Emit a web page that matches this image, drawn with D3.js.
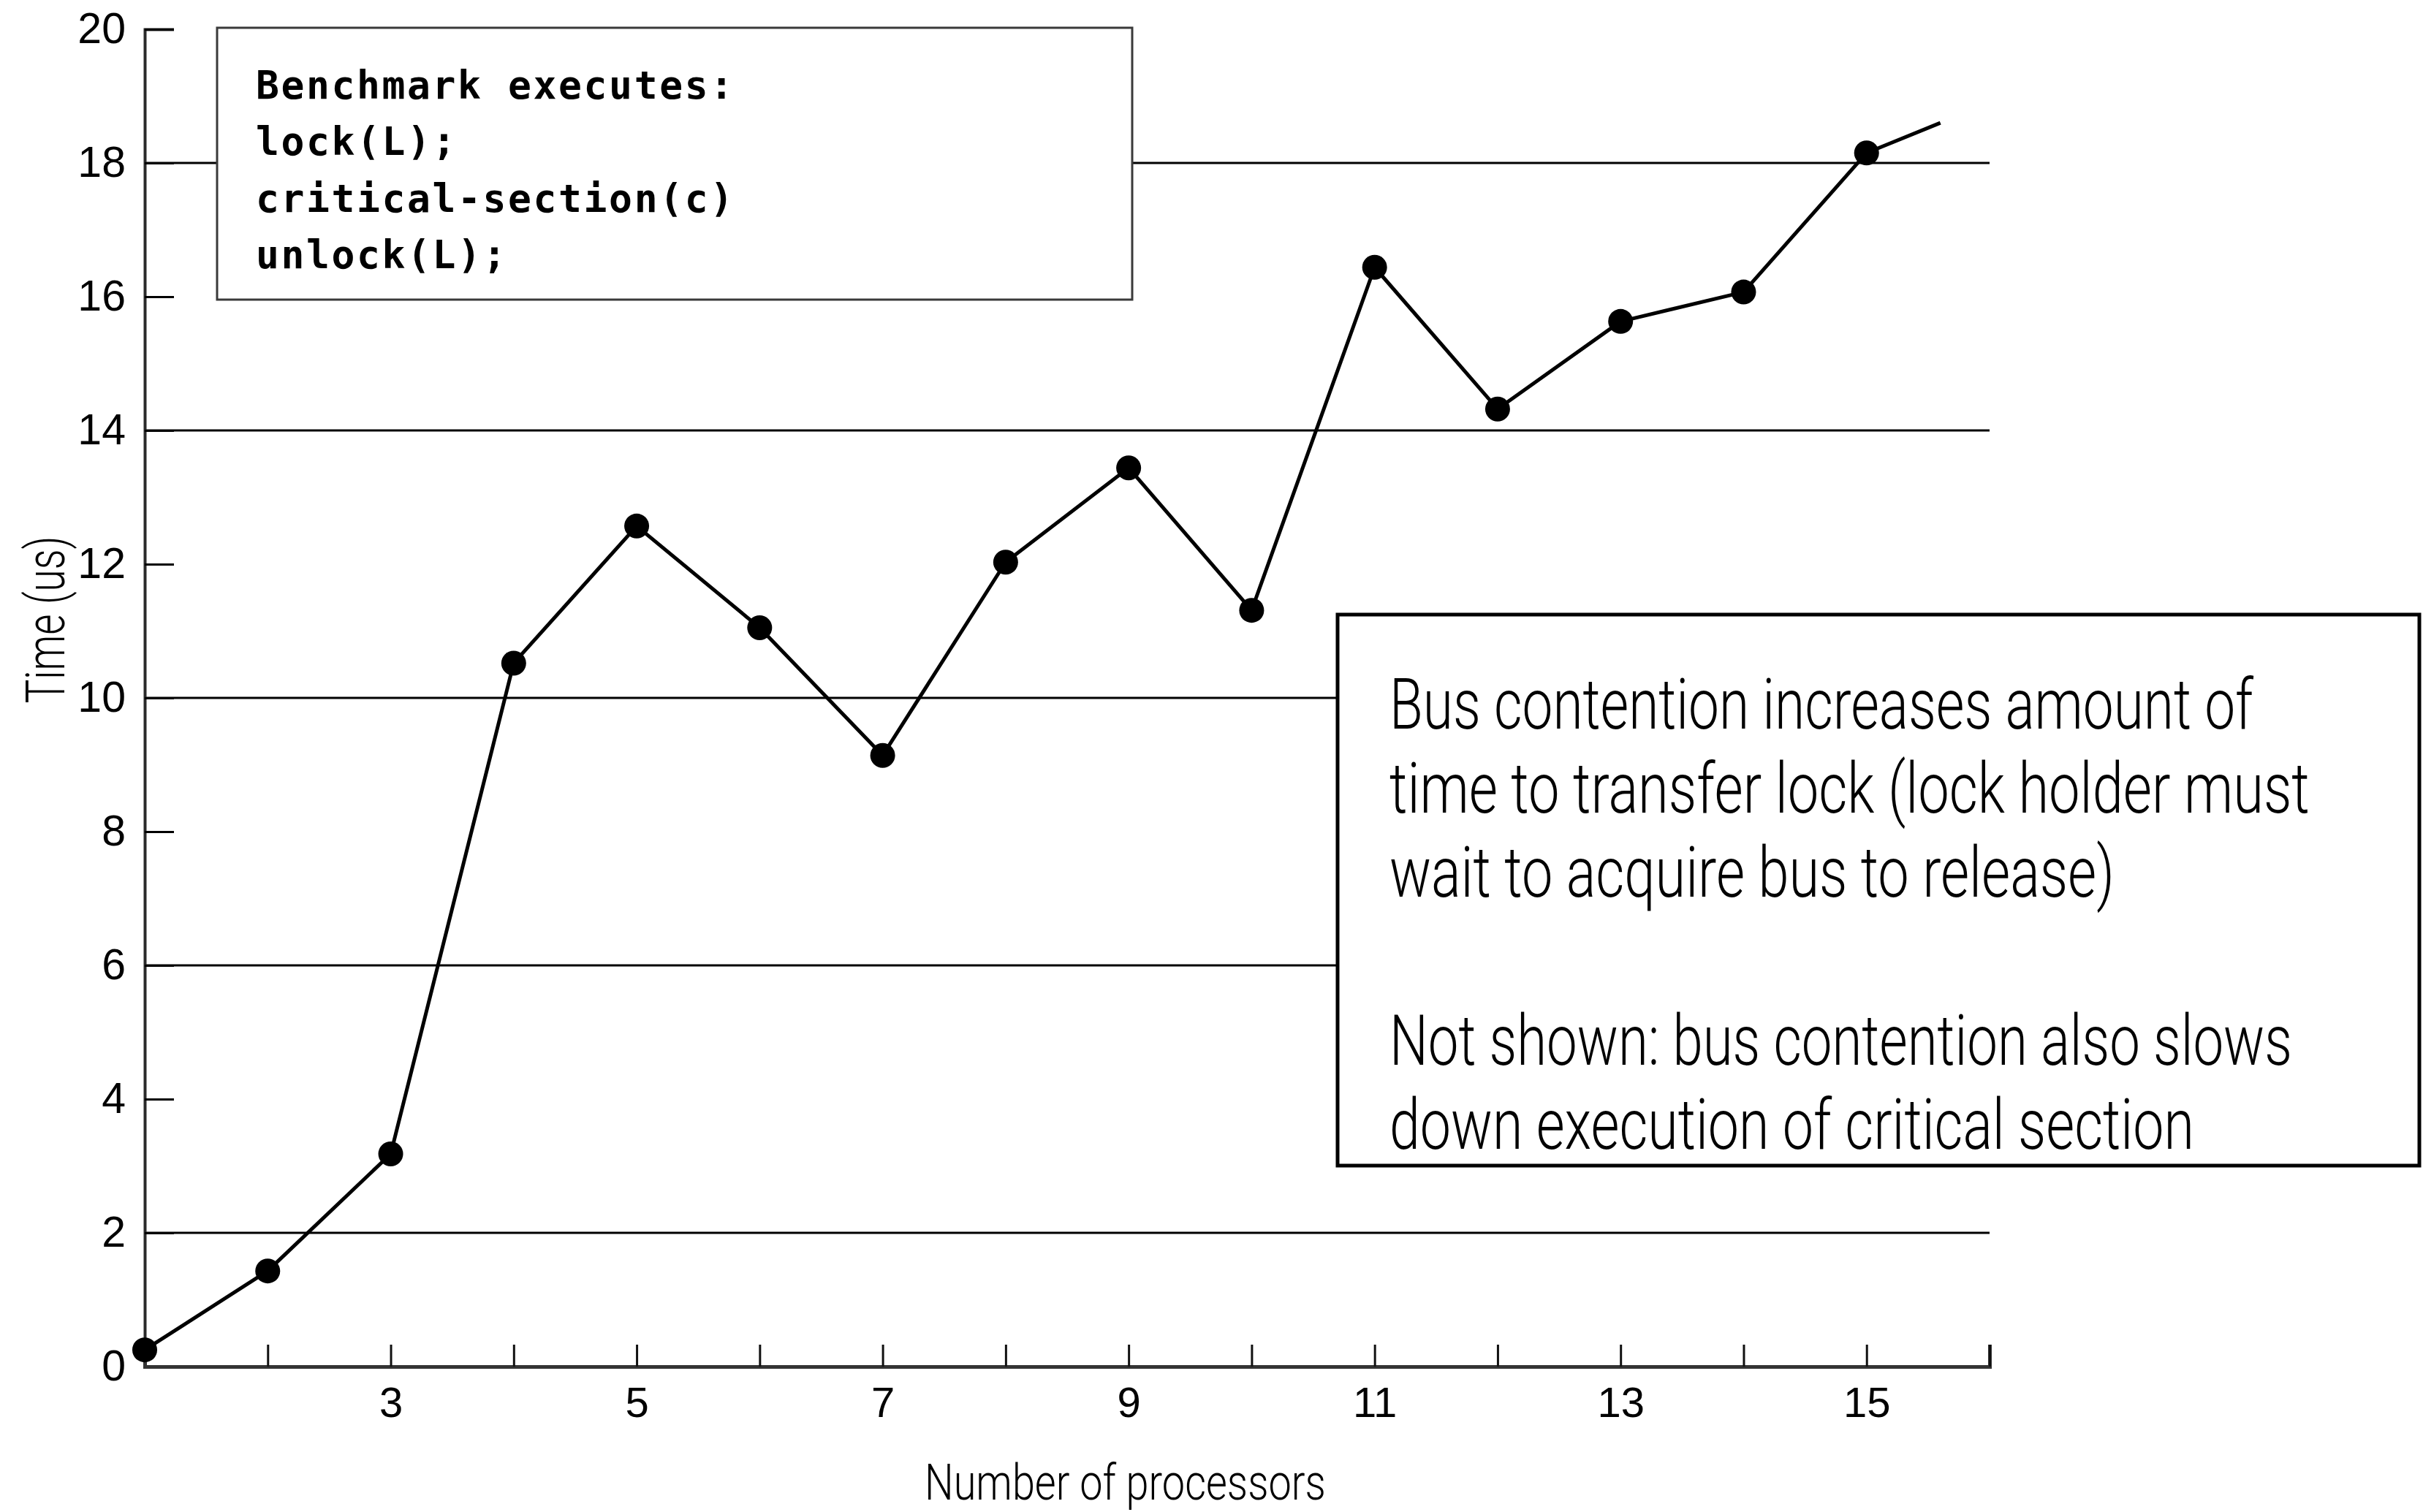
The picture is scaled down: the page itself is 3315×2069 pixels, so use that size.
<!DOCTYPE html>
<html>
<head>
<meta charset="utf-8">
<script src="https://cdn.jsdelivr.net/npm/d3@7"></script>
<style>
  body { margin: 0; background: #fff; }
  svg { display: block; }
</style>
</head>
<body>
<div id="chart"></div>
<script>
// values
const processors = [1, 2, 3, 4, 5, 6, 7, 8, 9, 10, 11, 12, 13, 14, 15]
const timeUs = [0.25, 1.43, 3.18, 10.52, 12.57, 11.05, 9.14, 12.03, 13.44, 11.31, 16.44, 14.32, 15.63, 16.07, 18.15]
// the line runs on a little past the last marker
const tail = { x: 15.6, y: 18.6 }

const yTickValues = [0, 2, 4, 6, 8, 10, 12, 14, 16, 18, 20]
const gridValues = [2, 6, 10, 14, 18]
const xTickValues = [2, 3, 4, 5, 6, 7, 8, 9, 10, 11, 12, 13, 14, 15, 16]
const xLabelValues = [3, 5, 7, 9, 11, 13, 15]

const codeLines = ["Benchmark executes:", "lock(L);", "critical-section(c)", "unlock(L);"]
const noteLines = ["Bus contention increases amount of",
  "time to transfer lock (lock holder must",
  "wait to acquire bus to release)",
  "",
  "Not shown: bus contention also slows",
  "down execution of critical section"]
const noteWidths = [1182, 1259, 992, 0, 1235, 1101]

const xTitle = "Number of processors"
const yTitle = "Time (us)"

drawChart("#chart")

function drawChart(id){
    const canvas = createCanvas()
    const svg = addSvg(id, canvas)
    const sc = addScales(canvas)

    addGrid(svg, sc)
    addAxes(svg, sc, canvas)
    addTitles(svg)
    addCodeBox(svg)
    addNoteBox(svg)
    addSeries(svg, sc)
}

function createCanvas(){
    return {
        width: 3315, height: 2069,
        margin: { top: 40, bottom: 199, left: 198, right: 593 }
    }
}

function addSvg(id, canvas){
    return d3.select(id).append("svg")
      .attr("width", canvas.width).attr("height", canvas.height)
      .attr("viewBox", `0 0 ${canvas.width} ${canvas.height}`)
}

function addScales(canvas){
    const xScale = d3.scaleLinear().domain([1, 16])
      .range([canvas.margin.left, canvas.width - canvas.margin.right])
    const yScale = d3.scaleLinear().domain([0, 20])
      .range([canvas.height - canvas.margin.bottom, canvas.margin.top])
    return { xScale, yScale }
}

// squeeze a light sans text horizontally so it spans the given width
function condensed(sel, width){
    sel.each(function(){
        const node = d3.select(this)
        const natural = this.getComputedTextLength()
        const sx = width / natural
        node.attr("transform", `${node.attr("data-pos")} scale(${sx},1)`)
    })
}

function addGrid(svg, sc){
    svg.append("g").selectAll("line").data(gridValues).join("line")
      .attr("x1", sc.xScale(1)).attr("x2", sc.xScale(16))
      .attr("y1", d => sc.yScale(d)).attr("y2", d => sc.yScale(d))
      .attr("stroke", "#000").attr("stroke-width", 3)
}

function addAxes(svg, sc, canvas){
    const yAxis = svg.append("g").attr("transform", `translate(${sc.xScale(1)},0)`)
      .call(d3.axisLeft(sc.yScale).tickValues(yTickValues).tickSize(-40).tickPadding(26))
    yAxis.select(".domain").attr("stroke", "#2a2a2a").attr("stroke-width", 4)
    yAxis.selectAll(".tick line").attr("stroke", "#000").attr("stroke-width", 3)
    yAxis.selectAll(".tick text").attr("font-family", "'Liberation Sans', Arial, sans-serif")
      .attr("font-size", 59).attr("fill", "#000")

    const xAxis = svg.append("g").attr("transform", `translate(0,${sc.yScale(0)})`)
      .call(d3.axisBottom(sc.xScale).tickValues(xTickValues).tickSize(-30).tickPadding(28)
        .tickFormat(d => xLabelValues.includes(d) ? d : ""))
    xAxis.select(".domain").attr("stroke", "#333").attr("stroke-width", 5)
    xAxis.selectAll(".tick line").attr("stroke", "#111").attr("stroke-width", 3)
    xAxis.selectAll(".tick text").attr("font-family", "'Liberation Sans', Arial, sans-serif")
      .attr("font-size", 58).attr("fill", "#000")
}

function addTitles(svg){
    svg.append("text").attr("data-pos", "translate(1265,2052)")
      .attr("font-family", "Roboto, 'Open Sans', sans-serif").attr("font-weight", 300)
      .attr("font-size", 69)
      .text(xTitle)
      .call(condensed, 549)

    svg.append("text").attr("data-pos", "translate(88,848) rotate(-90) translate(-114.5,0)")
      .attr("font-family", "Roboto, 'Open Sans', sans-serif").attr("font-weight", 300)
      .attr("font-size", 75)
      .text(yTitle)
      .call(condensed, 229)
}

function addCodeBox(svg){
    svg.append("rect").attr("x", 297).attr("y", 38).attr("width", 1252).attr("height", 372)
      .attr("fill", "#fff").attr("stroke", "#3a3a3a").attr("stroke-width", 3)

    svg.append("g").selectAll("text").data(codeLines).join("text")
      .attr("x", 350).attr("y", (d, i) => 135 + i * 77.3)
      .attr("font-family", "'DejaVu Sans Mono', monospace").attr("font-weight", "bold")
      .attr("font-size", 53).attr("letter-spacing", 2.6)
      .text(d => d)
}

function addNoteBox(svg){
    svg.append("rect").attr("x", 1830).attr("y", 841).attr("width", 1480).attr("height", 754)
      .attr("fill", "#fff").attr("stroke", "#000").attr("stroke-width", 5)

    noteLines.forEach((line, i) => {
        if (line === "") return
        svg.append("text").attr("data-pos", `translate(1901,${997 + i * 115})`)
          .attr("font-family", "Roboto, 'Open Sans', sans-serif").attr("font-weight", 300)
          .attr("font-size", 97)
          .text(line)
          .call(condensed, noteWidths[i])
    })
}

function addSeries(svg, sc){
    const pts = processors.map((p, i) => ({ x: p, y: timeUs[i] }))
    const line = d3.line().x(d => sc.xScale(d.x)).y(d => sc.yScale(d.y))

    svg.append("path").datum(pts.concat([tail])).attr("fill", "none").attr("stroke", "#000")
      .attr("stroke-width", 5).attr("stroke-linejoin", "round").attr("d", line)

    svg.append("g").selectAll("circle").data(pts).join("circle")
      .attr("cx", d => sc.xScale(d.x)).attr("cy", d => sc.yScale(d.y))
      .attr("r", 17).attr("fill", "#000")
}
</script>
</body>
</html>
